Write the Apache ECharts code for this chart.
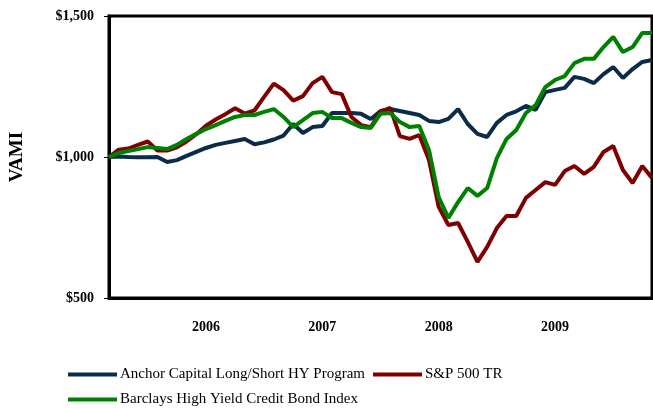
<!DOCTYPE html>
<html>
<head>
<meta charset="utf-8">
<script src="https://cdn.jsdelivr.net/npm/echarts@6/dist/echarts.min.js"></script>
<style>
  html, body { margin: 0; padding: 0; background: #fff; }
  #chart { width: 653px; height: 409px; }
</style>
</head>
<body>
<div id="chart"></div>
<script>
// Monthly VAMI (value of $1,000 invested), Mar 2005 – Nov 2009
const months = [
  '2005-03','2005-04','2005-05','2005-06','2005-07','2005-08','2005-09','2005-10','2005-11','2005-12',
  '2006-01','2006-02','2006-03','2006-04','2006-05','2006-06','2006-07','2006-08','2006-09','2006-10','2006-11','2006-12',
  '2007-01','2007-02','2007-03','2007-04','2007-05','2007-06','2007-07','2007-08','2007-09','2007-10','2007-11','2007-12',
  '2008-01','2008-02','2008-03','2008-04','2008-05','2008-06','2008-07','2008-08','2008-09','2008-10','2008-11','2008-12',
  '2009-01','2009-02','2009-03','2009-04','2009-05','2009-06','2009-07','2009-08','2009-09','2009-10','2009-11'
];

const anchorHY = [
  1000,1002,1000,999,999,1000,982,989,1004,1018,
  1032,1043,1050,1057,1064,1045,1052,1062,1076,1117,
  1085,1106,1110,1156,1156,1156,1153,1135,1163,1170,
  1163,1156,1149,1128,1124,1135,1170,1117,1082,1071,
  1121,1149,1162,1181,1167,1230,1238,1245,1284,1277,
  1262,1294,1319,1280,1312,1337,1344
];

const sp500TR = [
  1000,1026,1030,1043,1055,1023,1023,1034,1055,1081,
  1111,1133,1152,1173,1154,1165,1213,1260,1237,1200,
  1216,1262,1284,1230,1223,1142,1113,1106,1160,1174,
  1074,1064,1078,989,823,759,766,699,628,681,
  748,791,791,855,883,911,901,950,968,940,
  965,1018,1039,954,908,968,926
];

const barclaysHY = [
  1000,1014,1021,1028,1035,1032,1028,1043,1064,1082,
  1099,1113,1128,1142,1149,1149,1160,1170,1142,1106,
  1131,1156,1160,1138,1138,1121,1106,1103,1153,1156,
  1124,1106,1110,1025,858,784,840,890,862,890,
  996,1064,1096,1156,1184,1248,1273,1287,1333,1348,
  1348,1390,1426,1372,1390,1440,1440
];

const seriesNames = [
  'Anchor Capital Long/Short HY Program',
  'S&P 500 TR',
  'Barclays High Yield Credit Bond Index'
];
const seriesColors = ['#0B2B4A', '#7F0000', '#008000'];

const yTicks = [500, 1000, 1500];

const serif = '"Liberation Serif", "Times New Roman", serif';

const chart = echarts.init(document.getElementById('chart'), null, { renderer: 'canvas' });

function legendFor(idx, left, top) {
  return {
    data: [seriesNames[idx]],
    left: left,
    top: top,
    icon: 'rect',
    itemWidth: 49,
    itemHeight: 4,
    padding: 0,
    selectedMode: false,
    textStyle: { fontFamily: serif, fontSize: 15, color: '#000', padding: [0, 0, 0, -2] }
  };
}

chart.setOption({
  animation: false,
  backgroundColor: '#fff',
  color: seriesColors,
  grid: {
    left: 107, top: 16, right: 1, bottom: 111,
    show: true, borderColor: '#000', borderWidth: 3, backgroundColor: 'transparent'
  },
  legend: [
    legendFor(0, 68, 367),
    legendFor(1, 373, 367),
    legendFor(2, 68, 392)
  ],
  xAxis: {
    type: 'category',
    data: months,
    boundaryGap: false,
    axisLine: { lineStyle: { color: '#000', width: 3 } },
    axisTick: { show: false },
    splitLine: { show: false },
    axisLabel: {
      interval: (i, v) => v.endsWith('-01'),
      formatter: v => v.slice(0, 4),
      margin: 22,
      fontFamily: serif, fontSize: 14, fontWeight: 'bold', color: '#000'
    }
  },
  yAxis: {
    type: 'value',
    min: yTicks[0],
    max: yTicks[yTicks.length - 1],
    interval: 500,
    name: 'VAMI',
    nameLocation: 'middle',
    nameGap: 82,
    nameRotate: 90,
    nameTextStyle: { fontFamily: serif, fontSize: 19, fontWeight: 'bold', color: '#000' },
    axisLine: { show: true, lineStyle: { color: '#000', width: 3 } },
    axisTick: { show: true, length: 5, lineStyle: { color: '#000', width: 1 } },
    splitLine: { show: false },
    axisLabel: {
      margin: 15,
      formatter: v => '$' + v.toLocaleString('en-US'),
      fontFamily: serif, fontSize: 14, fontWeight: 'bold', color: '#000'
    }
  },
  series: [
    { name: seriesNames[0], type: 'line', data: anchorHY, symbol: 'none', lineStyle: { width: 4, color: seriesColors[0] }, z: 2 },
    { name: seriesNames[1], type: 'line', data: sp500TR, symbol: 'none', lineStyle: { width: 4, color: seriesColors[1] }, z: 3 },
    { name: seriesNames[2], type: 'line', data: barclaysHY, symbol: 'none', lineStyle: { width: 4, color: seriesColors[2] }, z: 4 }
  ]
});
</script>
</body>
</html>
